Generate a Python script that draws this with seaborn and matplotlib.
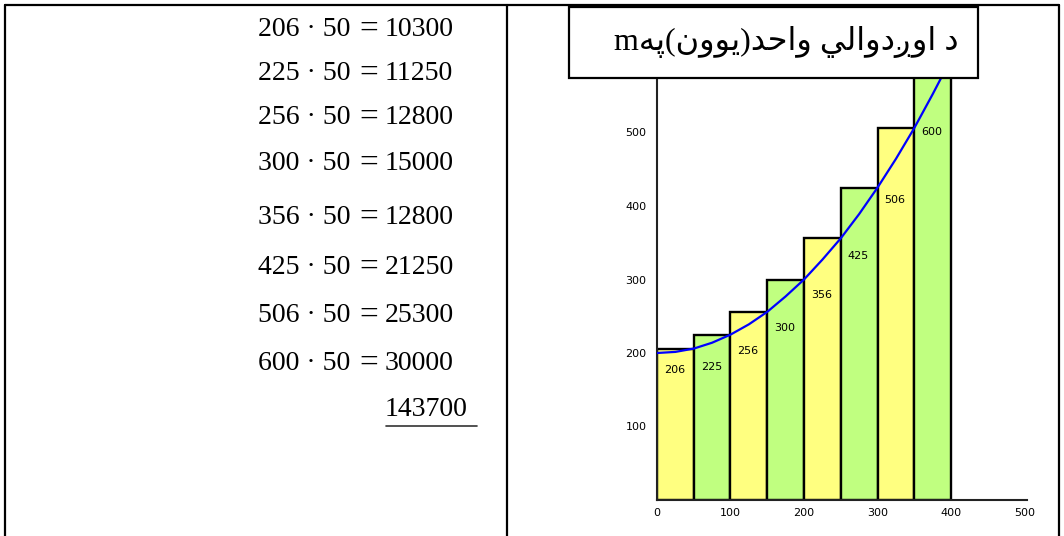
import matplotlib
matplotlib.use("Agg")
import matplotlib.pyplot as plt
from matplotlib.patches import Rectangle
from matplotlib.lines import Line2D
import seaborn as sns
import pandas as pd

# ---------------- data ----------------
bin_left = [0, 50, 100, 150, 200, 250, 300, 350]
bin_width = 50
heights = [206, 225, 256, 300, 356, 425, 506, 600]
bar_labels = ["206", "225", "256", "300", "356", "425", "506", "600"]
curve_x = [0, 25, 50, 75, 100, 125, 150, 175, 200, 225, 250, 275, 300, 325, 350, 375, 400]
curve_y = [200, 201.5, 206, 214, 225, 239, 256, 277, 300, 327, 356, 389, 425, 464, 506, 552, 600]
multiplier = 50
products = [10300, 11250, 12800, 15000, 12800, 21250, 25300, 30000]
total = 143700
xticks = [0, 100, 200, 300, 400, 500]
yticks = [100, 200, 300, 400, 500]
# Pashto title "د اوږدوالي واحد(يوون)په m", written in visual (left-to-right) order
# with Arabic presentation forms because matplotlib does no bidi shaping.
title_text = "m" + "\uFEEA\uFB58" + "(" + "\uFEE5\uFEED\uFEEE\uFEF3" + ")" + \
             "\uFEAA\uFEA3\uFE8D\uFEED" + " " + \
             "\uFEF2\uFEDF\uFE8D\uFEED\uFEA9\u0696\uFEED\uFE8D" + " " + "\uFEA9"

# ---------------- layout ----------------
W, H = 1064, 536
yellow, green = "#FFFF80", "#C0FF80"
label_drop = [23, 25, 22, 22, 21, 24, 17, 5]   # label offset below curve at bar's left edge
row_y = [29, 74, 118, 163, 218, 267, 315, 363]

sns.set_theme(style="white")
plt.rcParams["font.family"] = ["DejaVu Sans"]
plt.rcParams["text.color"] = "black"
plt.rcParams["xtick.color"] = "black"
plt.rcParams["ytick.color"] = "black"

fig = plt.figure(figsize=(W / 100, H / 100), dpi=100)
fig.patch.set_facecolor("white")

def fx(px):
    return px / W

def fy(py):
    return 1 - py / H

# chart axes: x=0 at px 657, y=0 at px 500, 0.735 px per unit
scale = 0.735
ax = fig.add_axes([fx(657), fy(500), 370 / W, 430 / H])
ax.patch.set_alpha(0)

df = pd.DataFrame({"x": [l + bin_width / 2 for l in bin_left], "y": heights})
sns.barplot(data=df, x="x", y="y", native_scale=True, width=1.0, errorbar=None,
            color=yellow, edgecolor="black", linewidth=1.7, ax=ax, zorder=2)
for i, p in enumerate(ax.patches):
    p.set_facecolor(yellow if i % 2 == 0 else green)
    p.set_alpha(1)

sns.lineplot(x=curve_x, y=curve_y, color="#0000FF", linewidth=1.6, ax=ax, zorder=3)

curve_map = dict(zip(curve_x, curve_y))
for l, lab, d in zip(bin_left, bar_labels, label_drop):
    ax.text(l + 24, curve_map[l] - d, lab, ha="center", va="center", fontsize=8,
            color="black", zorder=4)

ax.set_xlim(0, 370 / scale)
ax.set_ylim(0, 430 / scale)
ax.set_xticks(xticks)
ax.set_xticklabels([str(t) for t in xticks], fontsize=8)
ax.set_yticks(yticks)
ax.set_yticklabels([str(t) for t in yticks], fontsize=8)
ax.set_xlabel("")
ax.set_ylabel("")
for s in ["top", "right"]:
    ax.spines[s].set_visible(False)
for s in ["left", "bottom"]:
    ax.spines[s].set_color("#222222")
    ax.spines[s].set_linewidth(1.5)
ax.tick_params(axis="both", direction="inout", length=7, width=1.2, color="#222222",
               pad=4, labelcolor="black")
ax.tick_params(axis="x", length=6, pad=3)
ax.grid(False)

# title box
fig.add_artist(Rectangle((fx(569), fy(78)), (978 - 569) / W, 71 / H, transform=fig.transFigure,
                         facecolor="white", edgecolor="black", linewidth=1.6, zorder=10))
fig.text(fx(786), fy(42), title_text, ha="center", va="center", fontsize=23,
         family=["Liberation Serif", "DejaVu Sans"], color="black", zorder=11)

# table borders
for (x0, y0, x1, y1) in [(5, 5, 1059, 5), (5, 5, 5, 536), (507, 5, 507, 536), (1059, 5, 1059, 536)]:
    fig.add_artist(Line2D([fx(x0), fx(x1)], [fy(y0), fy(y1)], transform=fig.transFigure,
                          color="black", linewidth=1.6, zorder=9))

# equations
eq_font = dict(fontsize=20, family="Liberation Serif", color="black", va="center")
for h, prod, yy in zip(heights, products, row_y):
    fig.text(fx(258), fy(yy), f"{h} \u00b7 {multiplier}", ha="left", **eq_font)
    fig.text(fx(369), fy(yy), "=", ha="center",
             **{**eq_font, "fontsize": 24})
    fig.text(fx(385), fy(yy), f"{prod}", ha="left", **eq_font)
fig.text(fx(385), fy(410), f"{total}", ha="left", **eq_font)
fig.add_artist(Line2D([fx(386), fx(477)], [fy(426), fy(426)], transform=fig.transFigure,
                      color="#333333", linewidth=1.2))

fig.savefig("out.png", dpi=100, facecolor="white")
